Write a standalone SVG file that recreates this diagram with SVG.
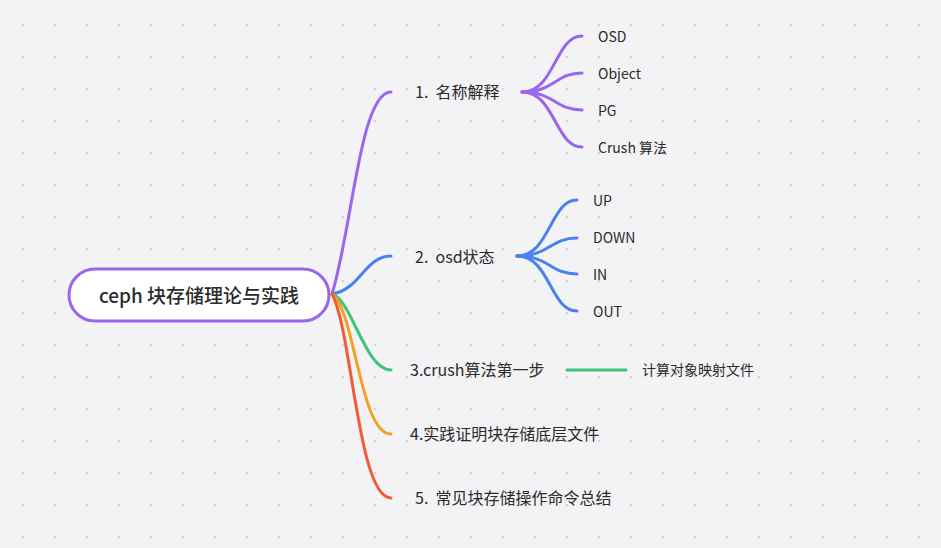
<svg xmlns="http://www.w3.org/2000/svg" width="941" height="548" viewBox="0 0 941 548">
<defs>
<pattern id="dots" x="22" y="24" width="32" height="32" patternUnits="userSpaceOnUse">
<rect x="0" y="0" width="2" height="2" fill="#d0d0d5"/>
</pattern>
<style>
text{font-family:"Noto Sans CJK SC","Noto Sans",sans-serif;fill:#2b2b2b;dominant-baseline:central;white-space:pre}
.l1{font-size:16px}
.l2{font-size:14px}
.root{font-size:19px;font-weight:500}
.c{fill:none;stroke-width:3;stroke-linecap:round}
.p{stroke:#9b66ee}.b{stroke:#4a80f0}.g{stroke:#3ec47d}.o{stroke:#f5a024}.r{stroke:#f25b3a}
</style>
</defs>
<rect width="941" height="548" fill="#f3f2f5"/>
<rect width="941" height="548" fill="url(#dots)"/>
<g id="connectors">
<path class="c p" d="M332,294 C352,230 360,92 391,92"/>
<path class="c b" d="M332,294 C360,290 365,256 391,256"/>
<path class="c g" d="M332,294 C352,300 365,370 391,370"/>
<path class="c o" d="M332,294 C355,310 360,434 391,434"/>
<path class="c r" d="M332,294 C352,330 358,498 391,498"/>
<path class="c p" d="M522,92 C555,92 555,36 582,36"/>
<path class="c p" d="M522,92 C555,92 555,73 582,73"/>
<path class="c p" d="M522,92 C555,92 555,110 582,110"/>
<path class="c p" d="M522,92 C555,92 555,147 582,147"/>
<path class="c b" d="M517,256 C550,256 550,200 577,200"/>
<path class="c b" d="M517,256 C550,256 550,238 577,238"/>
<path class="c b" d="M517,256 C550,256 550,274 577,274"/>
<path class="c b" d="M517,256 C550,256 550,311 577,311"/>
<path class="c g" d="M567,370 L626,370"/>
</g>
<g id="root">
<rect x="69" y="269" width="260" height="52" rx="26" fill="#ffffff" stroke="#9b66ee" stroke-width="3"/>
<text class="root" x="199" y="294" text-anchor="middle">ceph 块存储理论与实践</text>
</g>
<g id="n1"><text class="l1" x="415" y="91" xml:space="preserve">1.  名称解释</text></g>
<g id="n1a"><text class="l2" x="598" y="36">OSD</text></g>
<g id="n1b"><text class="l2" x="598" y="73">Object</text></g>
<g id="n1c"><text class="l2" x="598" y="110">PG</text></g>
<g id="n1d"><text class="l2" x="598" y="147">Crush 算法</text></g>
<g id="n2"><text class="l1" x="415" y="256" xml:space="preserve">2.  osd状态</text></g>
<g id="n2a"><text class="l2" x="593" y="200">UP</text></g>
<g id="n2b"><text class="l2" x="593" y="237">DOWN</text></g>
<g id="n2c"><text class="l2" x="593" y="274">IN</text></g>
<g id="n2d"><text class="l2" x="593" y="311">OUT</text></g>
<g id="n3"><text class="l1" x="410" y="369">3.crush算法第一步</text></g>
<g id="n3a"><text class="l2" x="642" y="369">计算对象映射文件</text></g>
<g id="n4"><text class="l1" x="410" y="433">4.实践证明块存储底层文件</text></g>
<g id="n5"><text class="l1" x="415" y="497" xml:space="preserve">5.  常见块存储操作命令总结</text></g>
</svg>
